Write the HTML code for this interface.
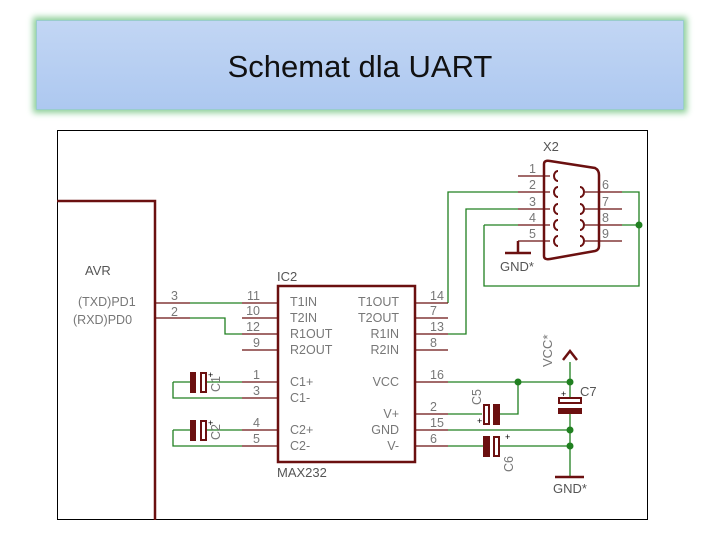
<!DOCTYPE html>
<html><head><meta charset="utf-8"><style>
body{margin:0;width:720px;height:540px;background:#fff;overflow:hidden;position:relative;font-family:"Liberation Sans",sans-serif}
.t{position:absolute;left:36px;top:20px;width:648px;height:90px;background:linear-gradient(#c2d6f4,#adc8f0);box-shadow:0 0 6px 3px #8fd09a;border:1px solid #9cc;display:flex;align-items:center;justify-content:center;font-size:31px;color:#111;padding-top:4px;box-sizing:border-box}
</style></head><body>
<div class="t">Schemat dla UART</div>
<svg width="720" height="540" style="position:absolute;left:0;top:0" font-family="Liberation Sans, sans-serif" font-size="12.5" fill="#888">
<rect x="57.5" y="130.5" width="590" height="389" fill="none" stroke="#000"/>
<g stroke="#208020" stroke-width="1.3" fill="none">
<path d="M190 303H242M190 318H225V334H242"/>
<path d="M173 382V398H242M173 430V446H242M173 382H190M173 430H190M206 382H242M206 430H242"/>
<path d="M448 303V192H518M448 334H466V209H518M484 225H518M484 225V286H639V192H622M622 225H639"/>
<path d="M448 382H570M518 382V414H500M448 414H482M448 430H570M448 446H483M500 446H570M570 362V397M570 414V477"/>
</g>
<g fill="#208020"><circle cx="639" cy="225" r="3.5"/><circle cx="518" cy="382" r="3.5"/><circle cx="570" cy="382" r="3.5"/><circle cx="570" cy="430" r="3.5"/><circle cx="570" cy="446" r="3.5"/></g>
<g stroke="#6b1010" stroke-width="1.3" fill="none">
<path d="M155 303H190M155 318H190"/>
<path d="M242 303H277M242 318H277M242 334H277M242 350H277M242 382H277M242 398H277M242 430H277M242 446H277"/>
<path d="M415 303H448M415 318H448M415 334H448M415 350H448M415 382H448M415 414H448M415 430H448M415 446H448"/>
<path d="M518 176H550M518 192H550M518 209H550M518 225H550M518 241H550M585 192H622M585 209H622M585 225H622M585 241H622"/>
</g>
<g stroke="#6b1010" stroke-width="2.5" fill="none">
<path d="M57 201H155V520"/>
<rect x="278" y="286" width="137" height="176"/>
<path d="M544 164Q544 160 550 161L595 168Q599 170 599 175V246Q599 250 595 251L550 259Q544 260 544 256Z"/>
<path d="M518 241V253M505 253H531M555 477H584M563 360L570 351L577 360"/>
</g>
<g stroke="#6b1010" stroke-width="2" fill="none">
<path d="M558 171a4 5 0 0 0 0 10M558 187a4 5 0 0 0 0 10M558 204a4 5 0 0 0 0 10M558 220a4 5 0 0 0 0 10M558 236a4 5 0 0 0 0 10"/>
<path d="M580 187a4 5 0 0 1 0 10M580 204a4 5 0 0 1 0 10M580 220a4 5 0 0 1 0 10M580 236a4 5 0 0 1 0 10"/>
<rect x="201" y="373" width="5" height="19"/><rect x="201" y="421" width="5" height="19"/>
<rect x="484" y="405" width="5" height="19"/><rect x="494" y="437" width="5" height="19"/>
<rect x="559" y="398" width="22" height="5"/>
</g>
<g fill="#6b1010"><rect x="190" y="372" width="6" height="21"/><rect x="190" y="420" width="6" height="21"/><rect x="493" y="404" width="7" height="21"/><rect x="483" y="436" width="7" height="21"/><rect x="558" y="408" width="24" height="6"/></g>
<g fill="#000" font-size="9"><text x="208" y="378">+</text><text x="208" y="426">+</text><text x="477" y="424">+</text><text x="505" y="440">+</text><text x="561" y="397">+</text></g>
<g font-size="13" fill="#555"><text x="85" y="275">AVR</text><text x="277" y="281">IC2</text><text x="277" y="477">MAX232</text><text x="543" y="151">X2</text><text x="500" y="271">GND*</text><text x="553" y="493">GND*</text><text x="580" y="396">C7</text></g>
<g fill="#777">
<text x="78" y="306">(TXD)PD1</text><text x="73" y="324">(RXD)PD0</text>
<text x="171" y="300">3</text><text x="171" y="316">2</text>
<g text-anchor="end"><text x="260" y="300">11</text><text x="260" y="315">10</text><text x="260" y="331">12</text><text x="260" y="347">9</text><text x="260" y="379">1</text><text x="260" y="395">3</text><text x="260" y="427">4</text><text x="260" y="443">5</text></g>
<text x="290" y="306">T1IN</text><text x="290" y="322">T2IN</text><text x="290" y="338">R1OUT</text><text x="290" y="354">R2OUT</text><text x="290" y="386">C1+</text><text x="290" y="402">C1-</text><text x="290" y="434">C2+</text><text x="290" y="450">C2-</text>
<g text-anchor="end"><text x="399" y="306">T1OUT</text><text x="399" y="322">T2OUT</text><text x="399" y="338">R1IN</text><text x="399" y="354">R2IN</text><text x="399" y="386">VCC</text><text x="399" y="418">V+</text><text x="399" y="434">GND</text><text x="399" y="450">V-</text></g>
<text x="430" y="300">14</text><text x="430" y="315">7</text><text x="430" y="331">13</text><text x="430" y="347">8</text><text x="430" y="379">16</text><text x="430" y="411">2</text><text x="430" y="427">15</text><text x="430" y="443">6</text>
<text x="529" y="173">1</text><text x="529" y="189">2</text><text x="529" y="206">3</text><text x="529" y="222">4</text><text x="529" y="238">5</text>
<text x="602" y="189">6</text><text x="602" y="206">7</text><text x="602" y="222">8</text><text x="602" y="238">9</text>
<text transform="translate(220,392) rotate(-90)">C1</text><text transform="translate(220,440) rotate(-90)">C2</text>
<text transform="translate(481,405) rotate(-90)">C5</text><text transform="translate(513,472) rotate(-90)">C6</text>
<text transform="translate(552,367) rotate(-90)" font-size="13">VCC*</text>
</g>
</svg>
</body></html>
